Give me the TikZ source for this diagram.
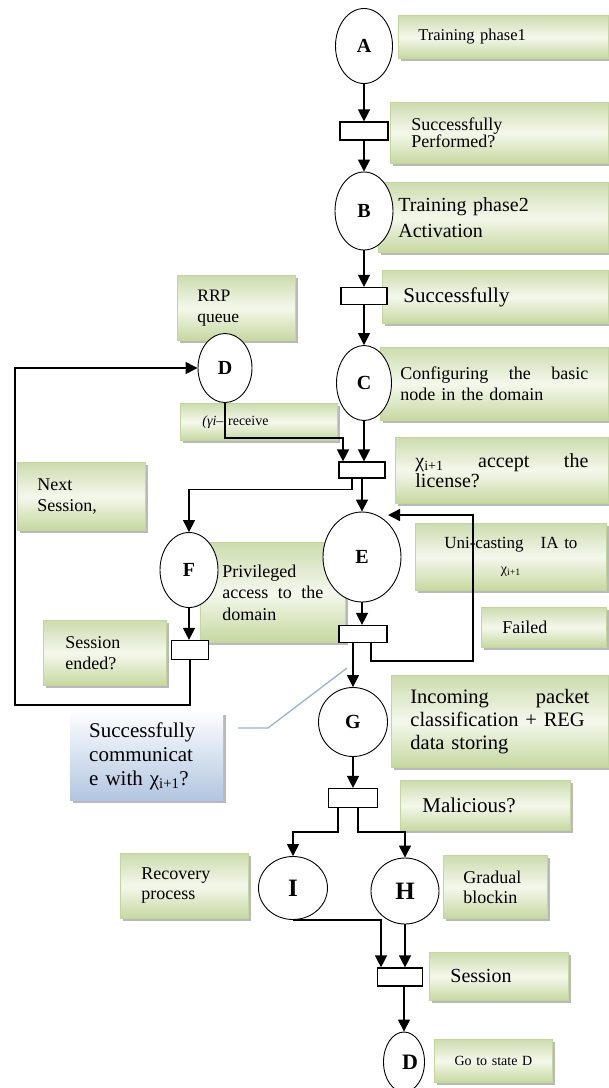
\documentclass[tikz,border=0pt]{standalone}
\usepackage{fontspec}
\setmainfont{Liberation Serif}
\usetikzlibrary{arrows.meta,shapes.geometric,shadows,calc}
\definecolor{gtop}{RGB}{204,220,174}
\definecolor{gmid}{RGB}{244,248,236}
\definecolor{gbot}{RGB}{198,216,160}
\definecolor{gborder}{RGB}{195,214,155}
\definecolor{btop}{RGB}{252,253,255}
\definecolor{bbot}{RGB}{178,198,224}
\definecolor{cline}{RGB}{149,179,215}
\newcommand{\fs}[2]{\fontsize{#1}{#2}\selectfont}
\begin{document}
\begin{tikzpicture}[x=1pt,y=-1pt,
  gbox/.style={draw=gborder, line width=0.8pt, top color=gtop, bottom color=gbot, middle color=gmid,
    drop shadow={shadow xshift=3pt,shadow yshift=-3pt,fill=black!50,opacity=0.55},
    anchor=north west, inner ysep=0pt, align=left},
  bbox/.style={top color=btop, bottom color=bbot,
    drop shadow={shadow xshift=3pt,shadow yshift=-3pt,fill=black!50,opacity=0.55},
    anchor=north west, inner ysep=0pt, align=left},
  state/.style={ellipse, draw, fill=white, line width=0.9pt, inner sep=0pt, font=\fs{20}{20}\bfseries},
  bar/.style={draw, fill=white, line width=1.2pt, inner sep=0pt},
  arr/.style={-{Triangle[length=12pt,width=12pt]}, line width=1.4pt},
  ln/.style={line width=1.4pt},
  callout/.style={draw=cline, line width=1.3pt}
  ]
\useasboundingbox (0,0) rectangle (609,1088);

% ---------- label boxes ----------
\node[gbox, minimum height=43pt, inner xsep=20pt, text width=170pt, font=\fs{16.5}{19}] (tp1) at (398,15) {Training phase1};
\node[gbox, minimum height=61pt, inner xsep=21pt, text width=176pt, font=\fs{18}{17}] (sp) at (390,102) {Successfully\\Performed?};
\node[gbox, minimum height=70pt, inner xsep=20pt, text width=190pt, font=\fs{20}{26}] (tp2) at (378,182) {Training phase2\\Activation};
\node[gbox, minimum height=53pt, inner xsep=21pt, text width=184pt, font=\fs{21}{24}] (succ) at (382,270) {Successfully};
\node[gbox, minimum height=73pt, inner xsep=20pt, text width=188pt, font=\fs{18}{21}] (conf) at (380,347) {Configuring\hfill the\hfill basic\\node in the domain};
\node[gbox, minimum height=66pt, inner xsep=20pt, text width=173pt, font=\fs{20}{20}] (acc) at (395,437) {χ\textsubscript{i+1}\hfill accept\hfill the\\license?};
\node[gbox, minimum height=65pt, inner xsep=20pt, text width=78pt, font=\fs{17.5}{21}] (rrp) at (177,275) {RRP\\queue};
\node[gbox, minimum height=37pt, inner xsep=22pt, text width=113pt, font=\fs{14}{16}] (recv) at (180,403) {\textit{(γi}– receive};
\node[gbox, minimum height=68pt, inner xsep=20pt, text width=88pt, font=\fs{18}{21}] (next) at (17,462) {Next\\Session,};
\node[gbox, minimum height=100pt, inner xsep=22pt, text width=101pt, font=\fs{18}{21.5}] (priv) at (200,542) {Privileged\\access\hfill to\hfill the\\domain};
\node[gbox, minimum height=65pt, inner xsep=22pt, text width=79pt, font=\fs{18}{21}] (send) at (43,620) {Session\\ended?};
\node[gbox, minimum height=67pt, inner xsep=12pt, text width=167pt, align=center, font=\fs{17}{25}] (uni) at (415,523) {Uni-casting\quad IA to\\{\fs{14}{25}χ\textsubscript{i+1}}};
\node[gbox, minimum height=40pt, inner xsep=21pt, text width=83pt, font=\fs{18}{21}] (fail) at (481,607) {Failed};
\node[gbox, minimum height=92pt, inner xsep=19pt, text width=179pt, font=\fs{20.5}{23}] (inc) at (391,675) {Incoming\hfill packet\\\mbox{classification + REG}\\data storing};
\node[bbox, minimum height=88pt, inner xsep=19pt, text width=115pt, font=\fs{21}{24}] (blue) at (70,712) {Successfully\\communicat\\e with χ\textsubscript{i+1}?};
\node[gbox, minimum height=50pt, inner xsep=22pt, text width=126pt, font=\fs{21}{24}] (mal) at (400,780) {Malicious?};
\node[gbox, minimum height=65pt, inner xsep=21pt, text width=86pt, font=\fs{18}{20}] (rec) at (120,853) {Recovery\\process};
\node[gbox, minimum height=63pt, inner xsep=20pt, text width=64pt, font=\fs{18}{20}] (grad) at (443,855) {Gradual\\blockin};
\node[gbox, minimum height=48pt, inner xsep=21pt, text width=97pt, font=\fs{20}{24}] (sess) at (429,952) {Session};
\node[gbox, minimum height=43pt, inner xsep=8pt, text width=102pt, align=center, font=\fs{14}{16}] (goto) at (434,1039) {Go to state D};

% ---------- states ----------
\node[state, minimum width=57pt, minimum height=75pt] (A) at (364,46) {A};
\node[state, minimum width=58pt, minimum height=78pt] (B) at (364,211) {B};
\node[state, minimum width=55pt, minimum height=75pt] (C) at (364,383) {C};
\node[state, minimum width=54pt, minimum height=69pt] (D) at (225,368) {D};
\node[state, minimum width=58pt, minimum height=75pt] (F) at (189,570) {F};
\node[state, minimum width=78pt, minimum height=90pt] (E) at (362,557) {E};
\node[state, minimum width=69pt, minimum height=69pt] (G) at (353,722) {G};
\node[state, minimum width=69pt, minimum height=63pt, font=\fs{25}{25}\bfseries] (I) at (293,888) {I};
\node[state, minimum width=68pt, minimum height=66pt, font=\fs{25}{25}\bfseries] (H) at (405,891) {H};
\node[state, minimum width=41pt, minimum height=60pt, font=\fs{22}{22}\bfseries] (D2) at (404,1062) {\hspace*{12pt}D};

% ---------- transitions ----------
\node[bar, minimum width=48pt, minimum height=18pt] (bar1) at (364,131) {};
\node[bar, minimum width=46pt, minimum height=17pt] (bar2) at (364,296) {};
\node[bar, minimum width=46pt, minimum height=16pt] (bar3) at (362,470) {};
\node[bar, minimum width=37pt, minimum height=19pt] (Fbar) at (190,650) {};
\node[bar, minimum width=48pt, minimum height=17pt] (Ebar) at (363,634) {};
\node[bar, minimum width=49pt, minimum height=19pt] (bar4) at (353,798) {};
\node[bar, minimum width=45pt, minimum height=18pt] (bar5) at (400,977) {};

% ---------- helper coordinates ----------
\coordinate (dj) at (343,438);
\coordinate (lb) at (15,705);
\coordinate (fb) at (473,661);
\coordinate (fr) at (473,515);
\coordinate (et) at (388,515);
\coordinate (c1) at (238,728);
\coordinate (c2) at (268,728);
\coordinate (c3) at (347,668);

% ---------- connectors ----------
\draw[arr] (A.south) -- (bar1.north);
\draw[arr] (bar1.south) -- (B.north);
\draw[arr] (B.south) -- (bar2.north);
\draw[arr] (bar2.south) -- (C.north);
\draw[arr] (C.south) -- (C.south |- bar3.north);
\draw[arr] (D.south) |- (dj) -- (dj |- bar3.north);
\draw[arr] (bar3.south) -- (E.north);
\draw[arr] ([xshift=-10pt]bar3.south) -- ++(0,11) -| (F.north);
\draw[arr] (F.south) -- (F.south |- Fbar.north);
\draw[arr] (Fbar.south) |- (lb) |- (D.west);
\draw[arr] (E.south) -- (E.south |- Ebar.north);
\draw[arr] ([xshift=8pt]Ebar.south) |- (fb) -- (fr) -- (et);
\draw[arr] ([xshift=-10pt]Ebar.south) -- (G.north);
\draw[arr] (G.south) -- (bar4.north);
\draw[arr] ([xshift=-15pt]bar4.south) -- ++(0,24) -| (I.north);
\draw[arr] ([xshift=5pt]bar4.south) -- ++(0,24) -| (H.north);
\draw[arr] (I.south) -| ([xshift=-19pt]bar5.north);
\draw[arr] (H.south) -- (H.south |- bar5.north);
\draw[arr] ([xshift=4pt]bar5.south) -- (D2.north);

% callout line
\draw[callout] (c1) -- (c2) -- (c3);
\end{tikzpicture}
\end{document}
